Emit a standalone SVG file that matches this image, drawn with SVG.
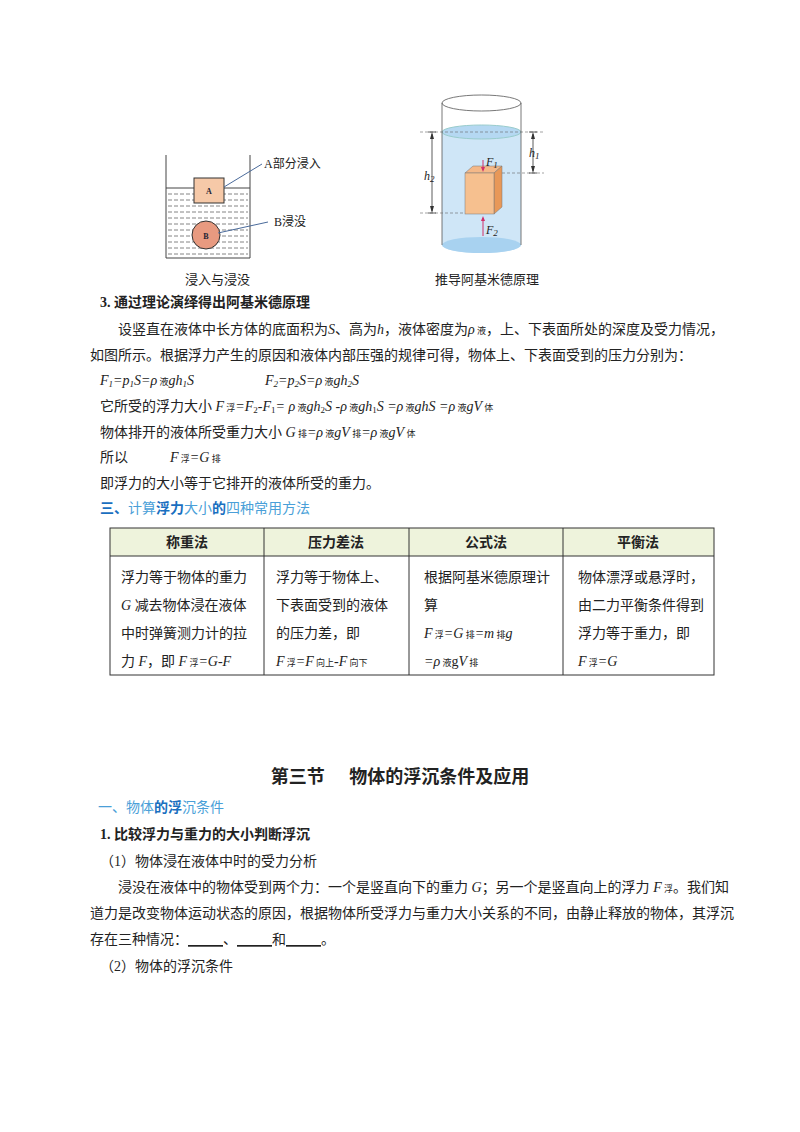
<svg xmlns="http://www.w3.org/2000/svg" width="800" height="1132" viewBox="0 0 800 1132">
<style>
text{font-family:"Liberation Serif","Noto Sans CJK SC",serif;font-size:14px;fill:#222}
.b{font-weight:bold}
.i{font-style:italic}
.s{font-size:9px}
.bl{fill:#4a9fd8;font-family:"Noto Sans CJK SC",sans-serif}
.bb{fill:#1a6fc0;font-weight:bold;font-family:"Noto Sans CJK SC",sans-serif}
.h{font-family:"Noto Sans CJK SC",sans-serif;font-weight:bold;font-size:14px}
.ln{stroke:#444;fill:none;stroke-width:1}
</style>
<rect width="800" height="1132" fill="#fff"/>
<g id="fig1">
<rect x="166" y="188" width="84" height="70" fill="#fff"/>
<g stroke="#666" stroke-width="0.8" stroke-dasharray="4,2">
<line x1="168" y1="194" x2="248" y2="194"/><line x1="168" y1="200" x2="248" y2="200"/><line x1="168" y1="206" x2="248" y2="206"/><line x1="168" y1="212" x2="248" y2="212"/><line x1="168" y1="218" x2="248" y2="218"/><line x1="168" y1="224" x2="248" y2="224"/><line x1="168" y1="230" x2="248" y2="230"/><line x1="168" y1="236" x2="248" y2="236"/><line x1="168" y1="242" x2="248" y2="242"/><line x1="168" y1="248" x2="248" y2="248"/><line x1="168" y1="254" x2="248" y2="254"/>
</g>
<line x1="166" y1="188" x2="250" y2="188" stroke="#444"/>
<polyline points="166,155 166,258 250,258 250,155" class="ln" stroke-width="1.3"/>
<rect x="194" y="178" width="30" height="25" fill="#f6c9a8" stroke="#333"/>
<text x="209" y="194" class="b" style="font-size:8px;fill:#223" text-anchor="middle">A</text>
<circle cx="206" cy="235" r="14" fill="#e89a80" stroke="#333"/>
<text x="206" y="239" class="b" style="font-size:8px;fill:#223" text-anchor="middle">B</text>
<line x1="224" y1="187" x2="262" y2="164" stroke="#4a6a9a"/>
<line x1="218" y1="233" x2="268" y2="222" stroke="#4a6a9a"/>
<text x="264" y="168" style="font-size:12px">A部分浸入</text>
<text x="274" y="226" style="font-size:12px">B浸没</text>
<text x="185" y="284" style="font-size:13px">浸入与浸没</text>
</g>
<g id="fig2">
<path d="M442,132 L442,245 A39.5,8 0 0 0 521,245 L521,132 Z" fill="#cfe6f7"/>
<ellipse cx="481.5" cy="132" rx="39.5" ry="7" fill="#b5d8f2" stroke="#9cc"/>
<ellipse cx="481.5" cy="245" rx="39.5" ry="8" fill="#a8d2f0"/>
<ellipse cx="481.5" cy="103" rx="39.5" ry="8" fill="none" stroke="#555" stroke-width="0.8"/>
<line x1="442" y1="103" x2="442" y2="245" stroke="#555" stroke-width="0.8"/>
<line x1="521" y1="103" x2="521" y2="245" stroke="#555" stroke-width="0.8"/>
<polygon points="465,173 473,166 502,166 494,173" fill="#f4b888" stroke="#777" stroke-width="0.5"/>
<polygon points="494,173 502,166 502,207 494,214" fill="#e89858" stroke="#777" stroke-width="0.5"/>
<rect x="465" y="173" width="29" height="41" fill="#f6c08f" stroke="#777" stroke-width="0.5"/>
<g stroke="#666" stroke-width="0.6" stroke-dasharray="3,2">
<line x1="420" y1="132" x2="544" y2="132"/><line x1="502" y1="173" x2="544" y2="173"/><line x1="420" y1="213" x2="465" y2="213"/>
</g>
<g stroke="#333" stroke-width="0.8">
<line x1="432" y1="134" x2="432" y2="211"/><line x1="428" y1="132" x2="436" y2="132"/><line x1="428" y1="213" x2="436" y2="213"/>
<line x1="533" y1="134" x2="533" y2="171"/><line x1="529" y1="132" x2="537" y2="132"/><line x1="529" y1="173" x2="537" y2="173"/>
</g>
<polygon points="432,132 430,139 434,139" fill="#333"/><polygon points="432,213 430,206 434,206" fill="#333"/>
<polygon points="533,132 531,139 535,139" fill="#333"/><polygon points="533,173 531,166 535,166" fill="#333"/>
<line x1="483" y1="160" x2="483" y2="170" stroke="#d0306a"/><polygon points="483,172 481,167 485,167" fill="#d0306a"/>
<line x1="483" y1="218" x2="483" y2="236" stroke="#d0306a"/><polygon points="483,216 481,221 485,221" fill="#d0306a"/>
<text x="486" y="166" class="i" style="font-size:12px">F<tspan class="s" dy="2">1</tspan></text>
<text x="486" y="234" class="i" style="font-size:12px">F<tspan class="s" dy="2">2</tspan></text>
<text x="424" y="180" class="i" style="font-size:12px">h<tspan class="s" dy="2">2</tspan></text>
<text x="529" y="157" class="i" style="font-size:12px">h<tspan class="s" dy="2">1</tspan></text>
<text x="435" y="284" style="font-size:13px">推导阿基米德原理</text>
</g>
<g id="text1">
<text x="100" y="307" class="b">3. 通过理论演绎得出阿基米德原理</text>
<text x="118" y="334">设竖直在液体中长方体的底面积为<tspan class="i">S</tspan>、高为<tspan class="i">h</tspan>，液体密度为<tspan class="i">ρ</tspan><tspan class="s"> 液</tspan>，上、下表面所处的深度及受力情况，</text>
<text x="90" y="360">如图所示。根据浮力产生的原因和液体内部压强的规律可得，物体上、下表面受到的压力分别为：</text>
<text x="100" y="385" class="i">F<tspan class="s" dy="2">1</tspan><tspan dy="-2">=p</tspan><tspan class="s" dy="2">1</tspan><tspan dy="-2">S=ρ</tspan><tspan class="s" style="font-style:normal"> 液</tspan>gh<tspan class="s" dy="2">1</tspan><tspan dy="-2">S</tspan></text>
<text x="265" y="385" class="i">F<tspan class="s" dy="2">2</tspan><tspan dy="-2">=p</tspan><tspan class="s" dy="2">2</tspan><tspan dy="-2">S=ρ</tspan><tspan class="s" style="font-style:normal"> 液</tspan>gh<tspan class="s" dy="2">2</tspan><tspan dy="-2">S</tspan></text>
<text x="100" y="411">它所受的浮力大小 <tspan class="i"> F</tspan><tspan class="s"> 浮</tspan><tspan class="i">=F</tspan><tspan class="s" dy="2">2</tspan><tspan class="i" dy="-2">-F</tspan><tspan class="s" dy="2">1</tspan><tspan class="i" dy="-2">= ρ</tspan><tspan class="s"> 液</tspan><tspan class="i">gh</tspan><tspan class="s" dy="2">2</tspan><tspan class="i" dy="-2">S -ρ</tspan><tspan class="s"> 液</tspan><tspan class="i">gh</tspan><tspan class="s" dy="2">1</tspan><tspan class="i" dy="-2">S =ρ</tspan><tspan class="s"> 液</tspan><tspan class="i">ghS =ρ</tspan><tspan class="s"> 液</tspan><tspan class="i">gV</tspan><tspan class="s"> 体</tspan></text>
<text x="100" y="437">物体排开的液体所受重力大小 <tspan class="i">G</tspan><tspan class="s"> 排</tspan><tspan class="i">=ρ</tspan><tspan class="s"> 液</tspan><tspan class="i">gV</tspan><tspan class="s"> 排</tspan><tspan class="i">=ρ</tspan><tspan class="s"> 液</tspan><tspan class="i">gV</tspan><tspan class="s"> 体</tspan></text>
<text x="100" y="462">所以</text>
<text x="170" y="462"><tspan class="i">F</tspan><tspan class="s"> 浮</tspan><tspan class="i">=G</tspan><tspan class="s"> 排</tspan></text>
<text x="100" y="488">即浮力的大小等于它排开的液体所受的重力。</text>
<text x="100" y="513"><tspan class="bb">三、</tspan><tspan class="bl">计算</tspan><tspan class="bb">浮力</tspan><tspan class="bl">大小</tspan><tspan class="bb">的</tspan><tspan class="bl">四种常用方法</tspan></text>
</g>
<g id="table">
<rect x="110" y="528" width="604" height="28" fill="#eef3dc"/>
<rect x="110" y="528" width="604" height="147" fill="none" stroke="#333"/>
<line x1="110" y1="556" x2="714" y2="556" stroke="#333"/>
<line x1="264" y1="528" x2="264" y2="675" stroke="#333"/>
<line x1="409" y1="528" x2="409" y2="675" stroke="#333"/>
<line x1="563" y1="528" x2="563" y2="675" stroke="#333"/>
<text x="187" y="547" class="h" text-anchor="middle">称重法</text>
<text x="336" y="547" class="h" text-anchor="middle">压力差法</text>
<text x="486" y="547" class="h" text-anchor="middle">公式法</text>
<text x="638" y="547" class="h" text-anchor="middle">平衡法</text>
<text x="121" y="582">浮力等于物体的重力</text>
<text x="121" y="610"><tspan class="i">G</tspan> 减去物体浸在液体</text>
<text x="121" y="638">中时弹簧测力计的拉</text>
<text x="121" y="666">力 <tspan class="i">F</tspan>，即 <tspan class="i">F</tspan><tspan class="s"> 浮</tspan><tspan class="i">=G-F</tspan></text>
<text x="276" y="582">浮力等于物体上、</text>
<text x="276" y="610">下表面受到的液体</text>
<text x="276" y="638">的压力差，即</text>
<text x="276" y="666"><tspan class="i">F</tspan><tspan class="s"> 浮</tspan><tspan class="i">=F</tspan><tspan class="s"> 向上</tspan><tspan class="i">-F</tspan><tspan class="s"> 向下</tspan></text>
<text x="424" y="582">根据阿基米德原理计</text>
<text x="424" y="610">算</text>
<text x="424" y="638"><tspan class="i">F</tspan><tspan class="s"> 浮</tspan><tspan class="i">=G</tspan><tspan class="s"> 排</tspan><tspan class="i">=m</tspan><tspan class="s"> 排</tspan><tspan class="i">g</tspan></text>
<text x="424" y="666"><tspan class="i">=ρ</tspan><tspan class="s"> 液</tspan>g<tspan class="i">V</tspan><tspan class="s"> 排</tspan></text>
<text x="578" y="582">物体漂浮或悬浮时，</text>
<text x="578" y="610">由二力平衡条件得到</text>
<text x="578" y="638">浮力等于重力，即</text>
<text x="578" y="666"><tspan class="i">F</tspan><tspan class="s"> 浮</tspan><tspan class="i">=G</tspan></text>
</g>
<g id="text2">
<text x="400" y="783" text-anchor="middle" style="font-family:'Noto Sans CJK SC',sans-serif;font-weight:bold;font-size:18px" xml:space="preserve">第三节      物体的浮沉条件及应用</text>
<text x="98" y="812"><tspan class="bl">一、物体</tspan><tspan class="bb">的浮</tspan><tspan class="bl">沉条件</tspan></text>
<text x="100" y="839" class="b">1. 比较浮力与重力的大小判断浮沉</text>
<text x="100" y="866">（1）物体浸在液体中时的受力分析</text>
<text x="118" y="892">浸没在液体中的物体受到两个力：一个是竖直向下的重力 <tspan class="i">G</tspan>；另一个是竖直向上的浮力 <tspan class="i">F</tspan><tspan class="s"> 浮</tspan>。我们知</text>
<text x="90" y="918">道力是改变物体运动状态的原因，根据物体所受浮力与重力大小关系的不同，由静止释放的物体，其浮沉</text>
<text x="90" y="944">存在三种情况：<tspan text-decoration="underline" xml:space="preserve">          </tspan>、<tspan text-decoration="underline" xml:space="preserve">          </tspan>和<tspan text-decoration="underline" xml:space="preserve">          </tspan>。</text>
<line x1="188" y1="946" x2="223" y2="946" stroke="#222"/><line x1="237" y1="946" x2="272" y2="946" stroke="#222"/><line x1="286" y1="946" x2="321" y2="946" stroke="#222"/>
<text x="100" y="971">（2）物体的浮沉条件</text>
</g>
</svg>
